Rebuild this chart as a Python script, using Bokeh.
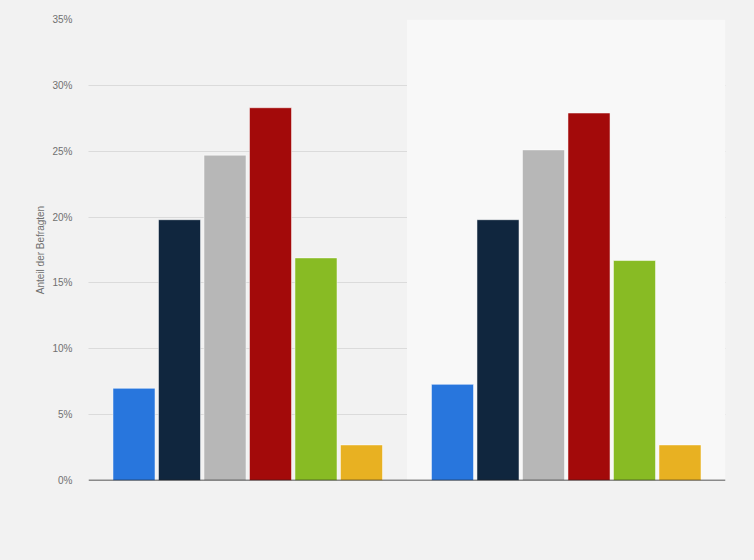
from bokeh.plotting import figure
from bokeh.models import (FactorRange, Range1d, FixedTicker, CustomJSTickFormatter,
                          Span, BoxAnnotation, ColumnDataSource)
from bokeh.transform import dodge
from bokeh.embed import file_html
from bokeh.resources import INLINE

# ---- data ----
groups = ["Gruppe 1", "Gruppe 2"]
series = ["Serie 1", "Serie 2", "Serie 3", "Serie 4", "Serie 5", "Serie 6"]
colors = ["#2876dd", "#10263e", "#b7b7b7", "#a30a0a", "#88bb24", "#e8b122"]
values = {
    "Serie 1": [7.0, 7.3],
    "Serie 2": [19.8, 19.8],
    "Serie 3": [24.7, 25.1],
    "Serie 4": [28.3, 27.9],
    "Serie 5": [16.9, 16.7],
    "Serie 6": [2.7, 2.7],
}
y_ticks = [0, 5, 10, 15, 20, 25, 30, 35]
y_label = "Anteil der Befragten"

W, H = 754, 560
p = figure(width=W, height=H, output_backend="svg", toolbar_location=None,
           x_range=FactorRange(factors=groups, range_padding=0),
           y_range=Range1d(0, 35),
           min_border_left=88, min_border_right=29, min_border_top=19, min_border_bottom=80)
p.background_fill_color = "#f2f2f2"
p.border_fill_color = "#f2f2f2"
p.outline_line_color = None

# lighter band behind second group
p.add_layout(BoxAnnotation(left=1, right=2, fill_color="#f8f8f8", fill_alpha=1.0,
                           line_color=None, level="underlay"))

src = ColumnDataSource(dict(group=groups, **values))
n = len(series)
for j, (s, c) in enumerate(zip(series, colors)):
    off = (j - (n - 1) / 2) / 7
    p.vbar(x=dodge("group", off, range=p.x_range), top=s, width=0.132, source=src,
           fill_color=c, line_color="white", line_alpha=0.5, line_width=1)

p.add_layout(Span(location=0, dimension="width", line_color="#222222", line_width=1.3))

# axes
p.xaxis.visible = False
p.xgrid.grid_line_color = None
p.ygrid.grid_line_color = "#c4c4c4"
p.ygrid.grid_line_dash = "1 1"
p.ygrid.grid_line_width = 1
p.ygrid.ticker = FixedTicker(ticks=y_ticks)

ax = p.yaxis[0]
ax.ticker = FixedTicker(ticks=y_ticks)
ax.formatter = CustomJSTickFormatter(code="return tick + '%';")
ax.axis_line_color = None
ax.major_tick_line_color = None
ax.minor_tick_line_color = None
ax.major_label_text_color = "#707070"
ax.major_label_text_font = "Liberation Sans"
ax.major_label_text_font_size = "10px"
ax.major_label_standoff = 10
ax.axis_label = y_label
ax.axis_label_text_font = "Liberation Sans"
ax.axis_label_text_font_style = "normal"
ax.axis_label_text_font_size = "10px"
ax.axis_label_text_color = "#707070"
ax.axis_label_standoff = 3

html = file_html(p, INLINE)
html = html.replace("<head>", "<head><style>html,body{margin:0;padding:0;background:#f2f2f2;overflow:hidden}</style>", 1)
open("out.html", "w").write(html)
